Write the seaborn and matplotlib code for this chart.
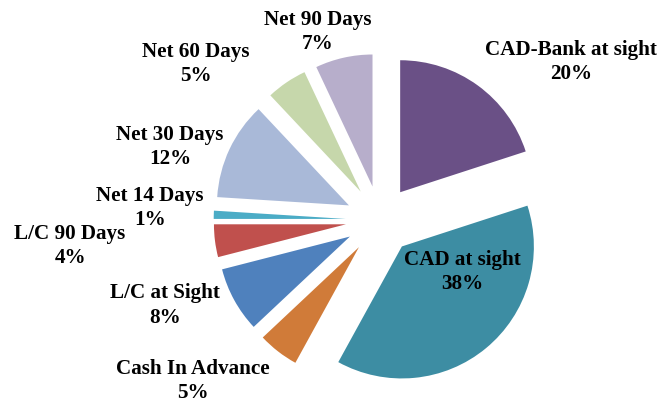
import matplotlib
matplotlib.use("Agg")
import matplotlib.pyplot as plt
import seaborn as sns

# ---- data ----
categories = ["CAD-Bank at sight", "CAD at sight", "Cash In Advance", "L/C at Sight",
              "L/C 90 Days", "Net 14 Days", "Net 30 Days", "Net 60 Days", "Net 90 Days"]
shares = [20, 38, 5, 8, 4, 1, 12, 5, 7]
pct_labels = ["20%", "38%", "5%", "8%", "4%", "1%", "12%", "5%", "7%"]

# ---- style ----
colors = ["#6a5086", "#3d8da3", "#d07b39", "#4f81bd", "#c0504d",
          "#4bacc6", "#a9b9d8", "#c6d7ab", "#b7aecb"]
# label anchor positions (in pie radius units, center = 0,0)
label_pos = [(1.447, 1.205), (0.621, -0.386), (-1.417, -1.21), (-1.629, -0.64),
             (-2.348, -0.19), (-1.742, 0.10), (-1.591, 0.56), (-1.394, 1.19),
             (-0.470, 1.43)]

sns.set_theme(style="white")
plt.rcParams["font.family"] = ["Liberation Serif", "DejaVu Serif"]

W, H = 660, 402
fig = plt.figure(figsize=(W / 100, H / 100), dpi=100)
ax = fig.add_axes([0, 0, 1, 1])

r_px = 132.0
cx, cy = 380.0, 221.0

ax.pie(shares, colors=colors, startangle=90, counterclock=False,
       explode=[0.26] * len(shares), radius=1.0,
       wedgeprops=dict(linewidth=0, edgecolor="none"))

ax.set_xlim(-cx / r_px, (W - cx) / r_px)
ax.set_ylim(-(H - cy) / r_px, cy / r_px)
ax.set_aspect("equal", adjustable="box")
ax.axis("off")

for name, pct, (lx, ly) in zip(categories, pct_labels, label_pos):
    ax.text(lx, ly, f"{name}\n{pct}", ha="center", va="center",
            fontsize=15.2, fontweight="bold", color="black", linespacing=1.28)

fig.savefig("out.png", dpi=100, facecolor="white")
